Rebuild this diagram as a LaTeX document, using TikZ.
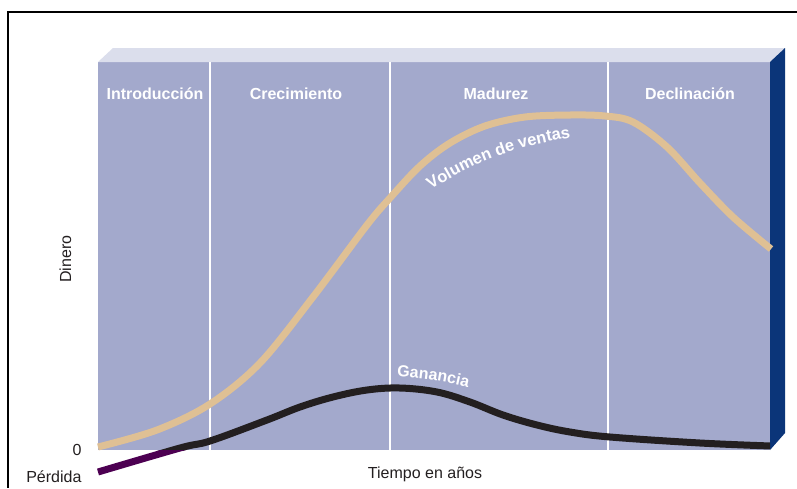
\documentclass[tikz,border=0pt]{standalone}
\usepackage{fontspec}
\setmainfont{Liberation Sans}
\usepackage{tikz}
\usetikzlibrary{decorations.text}
\usepackage{xcolor}
\definecolor{frente}{HTML}{A3A9CC}
\definecolor{tapa}{HTML}{DBDEEC}
\definecolor{lateral}{HTML}{0B3579}
\definecolor{ventas}{HTML}{DFC094}
\definecolor{ganancia}{HTML}{231F20}
\definecolor{perdida}{HTML}{4D0052}
\definecolor{texto}{HTML}{231F20}

\begin{document}
\begin{tikzpicture}[x=1pt,y=-1pt,
    etapa/.style={text=white,font=\fontsize{16}{19}\selectfont\bfseries,anchor=base},
    eje/.style={text=texto,font=\fontsize{16}{19}\selectfont},
    curva/.style={line width=7pt}]
  % Parámetros del panel (en px)
  \def\xizq{98}
  \def\xder{770}
  \def\ysup{62}
  \def\yinf{450}
  \def\prof{15}
  \def\alto{14}

  \useasboundingbox (0,0) rectangle (797,488);

  % Marco
  \draw[line width=1.5pt] (797,12) -- (8,12) -- (8,488);

  % Panel en perspectiva: frente, tapa y lateral
  \fill[frente] (\xizq,\ysup) rectangle (\xder,\yinf);
  \fill[tapa] (\xizq,\ysup) -- ++(\prof,-\alto) -- (\xder+\prof,\ysup-\alto) -- (\xder,\ysup) -- cycle;
  \fill[lateral] (\xder,\ysup) -- ++(\prof,-\alto) -- (\xder+\prof,\yinf-17) -- (\xder,\yinf) -- cycle;

  % Divisiones entre etapas
  \foreach \x in {210,390,608}
    \draw[white,line width=1.5pt] (\x,\ysup) -- (\x,\yinf);

  % Nombres de las etapas
  \foreach \x/\nombre/\id in {155/Introducción/intro,296/Crecimiento/crec,
                              496/Madurez/mad,690/Declinación/decl}
    \node[etapa] (\id) at (\x,99) {\nombre};

  % Curva del volumen de ventas
  \draw[ventas,curva] plot[smooth,tension=0.55] coordinates {
    (98,447) (157,430) (210,404) (260,363) (313,297) (367,225) (390,198) (420,166)
    (450,143) (485,126) (525,117) (570,115) (605,116) (633,122) (667,147) (700,183)
    (733,217) (771,249)};

  % Curva de ganancia: negra sobre el panel, morada bajo el cero
  \def\trazoganancia{plot[smooth,tension=0.6] coordinates {
    (98,472) (180,448) (210,441) (267,420) (300,407) (333,397) (367,390) (400,388)
    (437,392) (470,402) (503,415) (537,425) (570,432) (610,437) (700,443) (771,446)}}
  \begin{scope}
    \clip (\xizq,0) rectangle (\xder,\yinf);
    \draw[ganancia,curva] \trazoganancia;
  \end{scope}
  \begin{scope}
    \clip (0,\yinf) rectangle (\xder,488);
    \draw[perdida,curva] \trazoganancia;
  \end{scope}

  % Rótulos de las curvas
  \path[decorate,decoration={text along path,text color=white,
      text={|\fontsize{16.5}{19}\selectfont\bfseries|Volumen de ventas}}]
    (431,190) .. controls (470,165) and (510,146) .. (582,136);
  \path[decorate,decoration={text along path,text color=white,
      text={|\fontsize{16}{19}\selectfont\bfseries|Ganancia}}]
    (397,377) .. controls (425,378) and (448,382) .. (478,390);

  % Ejes
  \node[eje,anchor=base east] (cero) at (85,455) {0};
  \node[eje,anchor=base east] (lblperdida) at (85,482) {Pérdida};
  \node[eje,anchor=base] (tiempo) at (425,478) {Tiempo en años};
  \node[eje,rotate=90,anchor=base] (dinero) at (71,259) {Dinero};
\end{tikzpicture}
\end{document}
